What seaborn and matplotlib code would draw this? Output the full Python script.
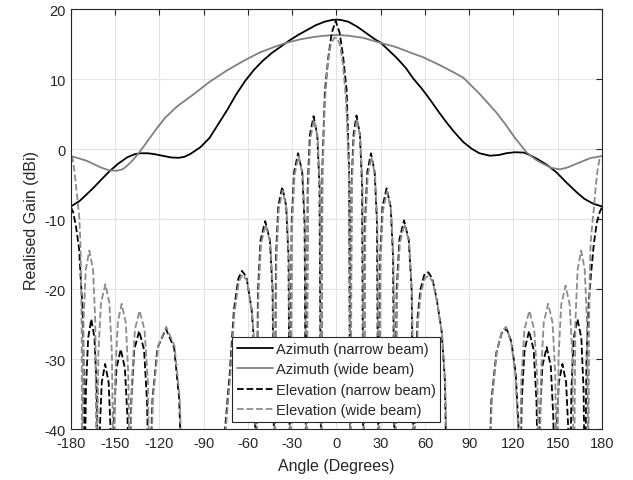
import matplotlib
matplotlib.use("Agg")
import matplotlib.pyplot as plt
import seaborn as sns

# Azimuth cuts (solid lines)
az_narrow_deg = [-180, -174, -170, -165, -160, -154, -148, -142, -137, -133, -128, -124, -118, -112,
                 -107, -103, -99, -92, -86, -80, -74, -68, -62, -56, -50, -44, -38, -32, -26, -20,
                 -14, -8, -3, 0, 3, 8, 14, 20, 26, 30, 35, 41, 47, 52, 58, 63, 69, 75, 80, 86, 92,
                 97, 104, 110, 115, 121, 127, 131, 136, 143, 149, 156, 163, 168, 174, 180]
az_narrow_db = [-8.2, -7.4, -6.6, -5.6, -4.5, -3.2, -2.1, -1.2, -0.75, -0.6, -0.6, -0.7, -0.95, -1.2,
                -1.25, -1.1, -0.7, 0.3, 1.6, 3.6, 5.6, 7.8, 9.7, 11.3, 12.6, 13.7, 14.6, 15.5, 16.3, 17.0,
                17.7, 18.2, 18.45, 18.5, 18.45, 18.2, 17.5, 16.6, 15.7, 15.2, 14.2, 13.0, 11.6, 10.1, 8.6,
                7.2, 5.4, 3.7, 2.4, 1.0, 0.0, -0.6, -0.95, -0.85, -0.6, -0.45, -0.5, -0.85, -1.4, -2.3,
                -3.3, -4.8, -6.2, -7.1, -7.8, -8.2]

az_wide_deg = [-180, -175, -169, -164, -160, -154, -149, -145, -142, -138.5, -135.5, -132, -128.5, -122,
               -116, -108, -97, -86, -74.5, -63, -52, -42, -33.8, -24, -15.7, -8, 0, 8, 18, 29.5, 40,
               50, 59, 70, 80, 86, 97, 108.5, 115, 121, 129, 135, 140, 146, 151.5, 157, 165, 172, 180]
az_wide_db = [-1.0, -1.3, -1.7, -2.2, -2.6, -3.05, -3.1, -2.9, -2.4, -1.7, -0.95, 0.0, 1.0, 2.9,
              4.5, 6.1, 7.8, 9.6, 11.2, 12.6, 13.8, 14.6, 15.2, 15.7, 16.0, 16.2, 16.3, 16.2, 15.9, 15.2, 14.6,
              13.8, 13.1, 12.0, 10.9, 10.2, 7.9, 5.2, 3.4, 1.6, -0.5, -1.5, -2.1, -2.7, -2.9, -2.6, -1.9, -1.3, -1.0]

# Elevation cuts (dashed lines)
el_narrow_deg = [-180, -178.5, -176.6, -174.4, -173.2, -172.0, -171.3, -170.8,
                 -169.8, -168.3, -166.2, -164.0, -162.5, -161.5,
                 -160.5, -159.1, -156.8, -154.4, -153.0, -152.0,
                 -150.9, -149.1, -146.2, -143.4, -141.6, -140.5,
                 -139.1, -137.1, -133.7, -130.4, -128.4, -127.0,
                 -124.7, -121.3, -115.6, -110.0, -106.6, -104.3, -91.0,
                 -77.0, -75.5, -72.3, -69.5, -66.5, -64.0, -61.0, -57.5, -56.4, -55.3, -54.5,
                 -53.2, -51.4, -48.3, -45.1, -43.3, -42.0,
                 -41.0, -39.4, -36.7, -34.1, -32.5, -31.5,
                 -30.4, -28.7, -26.0, -23.2, -21.6, -20.5,
                 -19.5, -18.0, -15.5, -13.0, -11.5, -10.3,
                 -9.6, -7.8, -5.5, -3.2, -0.5, 2.2, 4.6, 6.9, 8.6, 9.3,
                 10.2, 11.6, 13.6, 15.9, 17.4, 18.3,
                 19.3, 20.9, 23.4, 25.9, 27.5, 28.5,
                 29.6, 31.2, 34.0, 36.8, 38.4, 39.5,
                 40.8, 42.7, 45.8, 49.0, 51.0, 52.5,
                 53.3, 55.0, 57.0, 59.5, 62.2, 65.0, 68.0, 71.3, 73.5, 75.0, 89.0,
                 103.0, 105.0, 108.5, 112.0, 115.4, 118.5, 121.5, 123.5, 124.4,
                 125.6, 127.5, 130.6, 133.7, 135.6, 136.8,
                 137.9, 139.6, 142.5, 145.3, 147.0, 148.1,
                 149.1, 150.7, 153.2, 155.7, 157.3, 158.3,
                 159.3, 160.8, 163.4, 166.0, 167.5, 168.5,
                 169.5, 171.0, 172.5, 174.5, 176.5, 178.5, 180.0]
el_narrow_db = [-8.3, -9.0, -11.0, -14.3, -19.0, -23.0, -32.0, -50,
                -34.3, -27.0, -24.3, -27.0, -34.3, -50,
                -40.7, -33.4, -30.7, -33.4, -40.7, -50,
                -38.6, -31.3, -28.6, -31.3, -38.6, -50,
                -36.0, -28.7, -26.0, -28.7, -36.0, -50,
                -35.7, -28.4, -25.7, -28.4, -35.7, -50, -60,
                -50, -40.0, -32.0, -23.0, -18.5, -17.4, -18.3, -22.9, -26.0, -35.0, -50,
                -20.3, -13.0, -10.3, -13.0, -20.3, -50,
                -15.4, -8.1, -5.4, -8.1, -15.4, -50,
                -10.6, -3.3, -0.6, -3.3, -10.6, -50,
                -5.3, 2.0, 4.7, 2.0, -5.3, -50,
                -3.0, 8.4, 13.1, 16.6, 18.3, 16.6, 13.1, 8.4, -3.0, -50,
                -5.2, 2.1, 4.8, 2.1, -5.2, -50,
                -10.6, -3.3, -0.6, -3.3, -10.6, -50,
                -15.6, -8.3, -5.6, -8.3, -15.6, -50,
                -20.2, -12.9, -10.2, -12.9, -20.2, -50,
                -35.0, -24.0, -20.0, -18.0, -17.6, -18.5, -21.5, -26.0, -33.0, -50, -60,
                -50, -36.0, -29.0, -26.3, -25.7, -27.5, -32.0, -40.0, -50,
                -36.0, -28.7, -26.0, -28.7, -36.0, -50,
                -38.3, -31.0, -28.3, -31.0, -38.3, -50,
                -40.7, -33.4, -30.7, -33.4, -40.7, -50,
                -34.3, -27.0, -24.3, -27.0, -34.3, -50,
                -30.0, -22.0, -18.0, -13.5, -10.5, -9.0, -8.3]

el_wide_deg = [-180, -178.9, -177.7, -176.6, -175.4, -174.4, -173.6, -173.1, -172.7, -172.4,
               -171.4, -169.9, -167.5, -165.0, -163.5, -162.5,
               -161.4, -159.6, -156.6, -153.9, -152.2, -151.0,
               -149.9, -148.2, -145.6, -142.8, -141.1, -140.0,
               -138.7, -136.6, -133.5, -130.1, -127.8, -126.5,
               -124.3, -120.8, -115.4, -109.8, -106.3, -104.0, -90.5,
               -76.7, -75.2, -72.0, -69.2, -66.2, -63.7, -60.7, -57.2, -56.1, -55.0, -54.2,
               -52.9, -51.1, -48.0, -44.8, -43.0, -41.7,
               -40.7, -39.1, -36.4, -33.8, -32.2, -31.2,
               -30.1, -28.4, -25.7, -22.9, -21.3, -20.2,
               -19.2, -17.7, -15.2, -12.7, -11.2, -10.2,
               -9.5, -7.9, -6.0, -4.0, -1.5, 0.5, 2.5, 4.5, 6.5, 8.6, 9.5,
               10.4, 11.8, 13.9, 16.2, 17.7, 18.6,
               19.6, 21.2, 23.7, 26.2, 27.8, 28.8,
               29.9, 31.5, 34.3, 37.1, 38.7, 39.8,
               41.1, 43.0, 46.1, 49.3, 51.3, 52.8,
               53.6, 55.3, 57.3, 59.8, 62.5, 65.3, 68.3, 71.6, 73.8, 75.3, 89.5,
               103.3, 105.3, 108.8, 112.2, 115.0, 118.2, 121.2, 123.2, 124.0,
               125.3, 127.4, 130.8, 134.1, 136.2, 137.5,
               138.7, 140.5, 143.5, 146.5, 148.3, 149.5,
               150.6, 152.4, 155.3, 158.1, 159.9, 161.0,
               162.0, 163.5, 165.9, 168.3, 169.8, 170.8,
               171.2, 171.7, 172.3, 173.5, 174.5, 175.7, 177.0, 178.3, 180.0]
el_wide_db = [-1.0, -1.3, -3.0, -5.2, -7.5, -9.5, -13.0, -18.0, -26.0, -50,
              -24.5, -17.2, -14.5, -17.2, -24.5, -50,
              -29.3, -22.0, -19.3, -22.0, -29.3, -50,
              -32.1, -24.8, -22.1, -24.8, -32.1, -50,
              -33.1, -25.8, -23.1, -25.8, -33.1, -50,
              -35.4, -28.1, -25.4, -28.1, -35.4, -50, -60,
              -50, -40.5, -32.5, -23.5, -19.0, -17.9, -18.8, -23.4, -26.5, -35.5, -50,
              -20.8, -13.5, -10.8, -13.5, -20.8, -50,
              -15.9, -8.6, -5.9, -8.6, -15.9, -50,
              -11.0, -3.7, -1.0, -3.7, -11.0, -50,
              -5.8, 1.5, 4.2, 1.5, -5.8, -50,
              -4.0, 6.5, 12.0, 14.8, 15.9, 15.9, 14.8, 12.0, 7.0, -4.0, -50,
              -5.7, 1.6, 4.3, 1.6, -5.7, -50,
              -11.1, -3.8, -1.1, -3.8, -11.1, -50,
              -16.1, -8.8, -6.1, -8.8, -16.1, -50,
              -20.7, -13.4, -10.7, -13.4, -20.7, -50,
              -35.5, -24.5, -20.5, -18.5, -18.1, -19.0, -22.0, -26.5, -33.5, -50, -60,
              -50, -36.0, -28.8, -26.0, -25.4, -27.3, -32.0, -40.0, -50,
              -33.1, -25.8, -23.1, -25.8, -33.1, -50,
              -32.1, -24.8, -22.1, -24.8, -32.1, -50,
              -29.5, -22.2, -19.5, -22.2, -29.5, -50,
              -24.5, -17.2, -14.5, -17.2, -24.5, -50,
              -26.0, -18.0, -13.5, -10.5, -8.5, -5.5, -3.0, -1.5, -1.0]

x_ticks = list(range(-180, 181, 30))
y_ticks = list(range(-40, 21, 10))

sns.set_style("white")
plt.rcParams["font.family"] = ["Liberation Sans", "DejaVu Sans"]
plt.rcParams["axes.unicode_minus"] = False

fig = plt.figure(figsize=(6.33, 4.81), dpi=100)
ax = fig.add_axes([0.112, 0.106, 0.839, 0.873])

lw = 1.3
sns.lineplot(x=az_narrow_deg, y=az_narrow_db, color="black", linewidth=lw, sort=False,
             errorbar=None, label="Azimuth (narrow beam)", ax=ax)
sns.lineplot(x=az_wide_deg, y=az_wide_db, color="#808080", linewidth=lw, sort=False,
             errorbar=None, label="Azimuth (wide beam)", ax=ax)
sns.lineplot(x=el_narrow_deg, y=el_narrow_db, color="black", linewidth=lw, linestyle="--",
             sort=False, errorbar=None, label="Elevation (narrow beam)", ax=ax)
sns.lineplot(x=el_wide_deg, y=el_wide_db, color="#8c8c8c", linewidth=lw, linestyle="--",
             sort=False, errorbar=None, label="Elevation (wide beam)", ax=ax)

ax.set_xlim(-180, 180)
ax.set_ylim(-40, 20)
ax.set_xticks(x_ticks)
ax.set_yticks(y_ticks)
ax.tick_params(labelsize=10.5, direction="in", length=4, top=True, right=True,
               color="#262626", labelcolor="#262626")
ax.tick_params(axis="x", pad=5)
ax.grid(True, color="#e3e3e3", linewidth=0.8)
ax.set_axisbelow(True)
for s in ax.spines.values():
    s.set_color("#262626")
    s.set_linewidth(0.8)

ax.set_xlabel("Angle (Degrees)", fontsize=11.5, color="#262626", labelpad=6)
ax.set_ylabel("Realised Gain (dBi)", fontsize=11.5, color="#262626")

leg = ax.legend(loc="lower center", fontsize=10.5, fancybox=False, framealpha=1,
                edgecolor="#262626", handlelength=2.5, handletextpad=0.2,
                labelspacing=0.45, borderaxespad=0.5, borderpad=0.3)
leg.get_frame().set_linewidth(0.8)

fig.savefig("out.png", dpi=100)
